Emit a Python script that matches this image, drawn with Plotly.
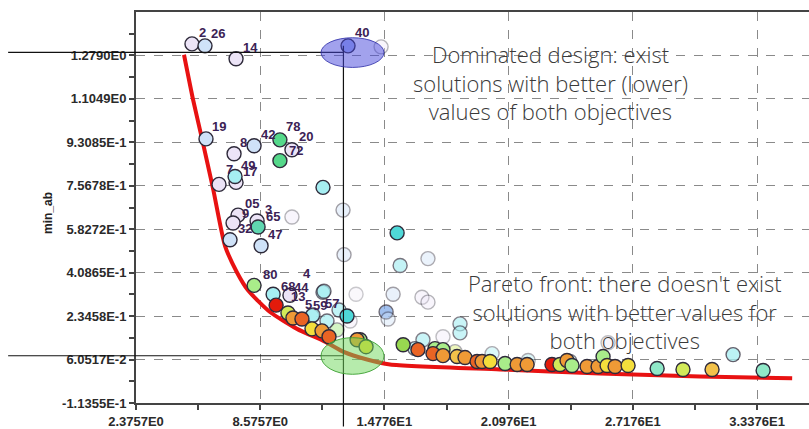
import plotly.graph_objects as go

# ---------------- data ----------------
X_TICKS = [2.3757, 8.5757, 14.776, 20.976, 27.176, 33.376]
X_TICK_TEXT = ["2.3757E0", "8.5757E0", "1.4776E1", "2.0976E1", "2.7176E1", "3.3376E1"]
Y_TICKS = [-0.11355, 0.060517, 0.23458, 0.40865, 0.58272, 0.75678, 0.93085, 1.1049, 1.2790]
Y_TICK_TEXT = ["-1.1355E-1", "6.0517E-2", "2.3458E-1", "4.0865E-1", "5.8272E-1",
               "7.5678E-1", "9.3085E-1", "1.1049E0", "1.2790E0"]
X_RANGE = [2.3757, 35.97]
Y_RANGE = [-0.11355, 1.45314]

# designs (objective 1, min_ab, colour class, opacity, label)
des_x = [14.61, 12.71, 10.16, 12.76, 15.56, 16.95, 11.71, 13.36, 15.21, 16.65,
         16.95, 14.86, 14.96, 12.51, 13.06, 11.91, 11.16, 18.55, 18.55, 17.70,
         16.70, 16.30, 18.30, 20.15, 21.95, 24.04, 25.94, 11.76, 12.41, 32.18,
         11.21,
         5.17, 5.82, 7.37, 12.96, 5.87, 7.27, 8.27, 9.56, 10.16, 9.56,
         6.52, 7.37, 7.32, 11.71, 7.47, 7.22, 8.42, 8.47, 7.07, 8.62,
         15.41, 8.27, 9.22, 10.06, 9.37, 9.96, 10.21, 10.66, 11.16, 11.66,
         12.01, 12.91, 13.56, 13.41, 13.86, 15.71, 16.45, 17.30, 17.70, 17.20,
         17.70, 18.40, 18.80, 19.40, 19.65, 20.05, 20.80, 21.40, 21.90, 23.14,
         23.54, 23.89, 24.14, 24.89, 25.44, 25.69, 25.89, 26.29, 26.94, 28.39,
         29.68, 31.13, 33.68]
des_y = [1.3135, 0.6593, 0.6315, 0.4808, 0.4372, 0.4650, 0.3302, 0.3222, 0.3222, 0.3104,
         0.2905, 0.2509, 0.2231, 0.2588, 0.2152, 0.2152, 0.2350, 0.2033, 0.1676, 0.1518,
         0.1399, 0.1042, 0.0923, 0.0843, 0.0566, 0.0526, 0.1280, 0.3341, 0.1795, 0.0804,
         0.2390,
         1.3254, 1.3175, 1.2659, 1.3175, 0.9447, 0.8853, 0.9170, 0.9408, 0.9011, 0.8575,
         0.7624, 0.7703, 0.7941, 0.7505, 0.6394, 0.6077, 0.6157, 0.5919, 0.5403, 0.5165,
         0.5681, 0.3579, 0.3222, 0.3183, 0.2786, 0.2469, 0.2271, 0.2231, 0.1835, 0.1755,
         0.1518, 0.2350, 0.1399, 0.1399, 0.1121, 0.1200, 0.1002, 0.1042, 0.1002, 0.0843,
         0.0764, 0.0725, 0.0685, 0.0526, 0.0526, 0.0526, 0.0447, 0.0407, 0.0407, 0.0407,
         0.0407, 0.0566, 0.0367, 0.0328, 0.0328, 0.0725, 0.0367, 0.0328, 0.0367, 0.0249,
         0.0209, 0.0209, 0.0169]
des_class = ["lav", "lb", "lav", "lb", "cyan", "lb", "cyan", "lav", "lb", "lav",
             "lav", "blue", "lb", "cyan", "lav", "cyan", "cyan", "cyan", "cyan", "lav",
             "cyan", "cyan", "yg", "cyan", "cyan", "cyan", "lav", "cyan", "lg", "cyan",
             "cyan",
             "lav", "lb", "lav", "p40", "lb", "lav", "lb", "green", "lav", "green",
             "lav", "lav", "cyan", "cyan", "lav", "lav", "lav", "tg", "lb", "lb",
             "teal", "lg", "cyan", "lav", "red", "yg", "orange", "ored", "yellow", "orange",
             "ored", "teal", "lg", "orange", "yellow", "lime", "ored", "lg", "lg", "ored",
             "orange", "yo", "orange", "ored", "orange", "yellow", "lg", "orange", "orange", "red",
             "yg", "orange", "lg", "orange", "orange", "lg", "yellow", "orange", "yellow", "cg",
             "yg", "yo", "cg"]
des_alpha = [0.35, 0.45, 0.35, 0.45, 0.65, 0.4, 0.7, 0.25, 0.45, 0.35,
             0.35, 0.7, 0.4, 0.7, 0.3, 0.7, 0.75, 0.6, 0.6, 0.3,
             0.6, 0.7, 0.4, 0.4, 0.4, 0.6, 0.3, 0.7, 0.5, 0.75,
             0.75] + [1.0] * 62
des_label = [""] * 31 + [
    "2", "26", "14", "40", "19", "8", "42", "78", "20", "72",
    "7", "17", "49", "", "05", "9", "3", "65", "32", "47",
    "", "80", "68", "44", "", "", "", "", "", "",
    "", "", "", "", "", "", "", "", "", "",
    "", "", "", "", "", "", "", "", "", "",
    "", "", "", "", "", "", "", "", "", "",
    "", ""]

# extra overlapping labels in the dense cluster: (label, attached design index)
extra_labels = [("4", 54), ("13", 54), ("5", 58), ("59", 58), ("57", 58)]

# hand-drawn Pareto front curve
front_x = [4.772, 5.22, 5.671, 6.220, 6.819, 7.418, 7.967, 9.066, 10.414, 11.81,
           12.71, 13.91, 15.06, 20.55, 25.54, 30.53, 35.13]
front_y = [1.2818, 1.1034, 0.9447, 0.7465, 0.5165, 0.4095, 0.3381, 0.2509, 0.1835, 0.1319,
           0.0923, 0.0606, 0.0407, 0.0209, 0.0050, -0.0069, -0.0148]

# reference cross-hair values
CROSS_X = 12.73
CROSS_Y_TOP = 1.291
CROSS_Y_LOW = 0.0757

# ---------------- styles ----------------
COLORS = {
    "lav": "#ece4f7", "lb": "#cfe2f8", "p40": "#a9b8f5", "cyan": "#a6eef2",
    "teal": "#4fd8d8", "green": "#55d88a", "tg": "#5fd6b0", "lg": "#a9ec8a",
    "lime": "#98d850", "yg": "#d2ea58", "yellow": "#f4de3c", "yo": "#f3c24a",
    "orange": "#ef9a36", "ored": "#ea6424", "red": "#e31b0b", "cg": "#8fe8c8",
    "blue": "#7aa6e8",
}
LABEL_OFFSETS = {
    "2": (11, 11), "26": (13, 12), "14": (14, 11), "40": (14, 13), "19": (13, 12),
    "8": (9, 11), "42": (14, 11), "78": (13, 13), "20": (14, 13), "72": (16, 10),
    "49": (13, 11), "7": (10, 15), "17": (14, 11), "05": (14, 12), "9": (12, 10),
    "3": (11, 12), "65": (15, 10), "32": (15, 11), "47": (14, 11), "80": (16, 11),
    "68": (15, 8), "44": (12, 8), "4": (17, 22), "13": (8, -1), "5": (7, 14),
    "59": (18, 13), "57": (30, 15),
}
LABEL_FONT = dict(family="Liberation Sans, Arial", size=13, color="#3b2255", weight="bold")


def to_px(v):
    return (v - X_RANGE[0]) / (X_RANGE[1] - X_RANGE[0])


def to_py(v):
    return (v - Y_RANGE[0]) / (Y_RANGE[1] - Y_RANGE[0])


fig = go.Figure()

fig.add_trace(go.Scatter(
    x=front_x, y=front_y, mode="lines",
    line=dict(color="#e81212", width=4, shape="spline", smoothing=0.6),
    hoverinfo="skip", showlegend=False))

fig.add_trace(go.Scatter(
    x=des_x, y=des_y, mode="markers",
    marker=dict(size=14, color=[COLORS[c] for c in des_class], opacity=des_alpha,
                line=dict(color="#2e2a3a", width=1.4)),
    showlegend=False))

annotations = []
for xv, yv, lab in zip(des_x, des_y, des_label):
    if lab:
        dx, dy = LABEL_OFFSETS[lab]
        annotations.append(dict(x=xv, y=yv, xref="x", yref="y", text=lab, showarrow=False,
                                xshift=dx, yshift=dy, font=LABEL_FONT))
for lab, idx in extra_labels:
    dx, dy = LABEL_OFFSETS[lab]
    annotations.append(dict(x=des_x[idx], y=des_y[idx], xref="x", yref="y", text=lab,
                            showarrow=False, xshift=dx, yshift=dy, font=LABEL_FONT))

TEXT_FONT = dict(family="Open Sans", size=22, color="#3a3a3a", weight=300)
annotations.append(dict(xref="paper", yref="paper", x=0.6166, y=0.8190,
                        xanchor="center", yanchor="middle", showarrow=False,
                        text="Dominated design: exist<br>solutions with better (lower)<br>values of both objectives",
                        font=TEXT_FONT))
annotations.append(dict(xref="paper", yref="paper", x=0.7266, y=0.2329,
                        xanchor="center", yanchor="middle", showarrow=False,
                        text="Pareto front: there doesn't exist<br>solutions with better values for<br>both objectives",
                        font=TEXT_FONT))
annotations.append(dict(xref="paper", yref="paper", x=-0.1308, y=0.486, textangle=-90,
                        xanchor="center", yanchor="middle", showarrow=False, text="min_ab",
                        font=dict(family="Liberation Sans, Arial", size=12, color="#222",
                                  weight="bold")))

line_style = dict(color="#111111", width=1.2)
shapes = [
    dict(type="line", xref="paper", yref="paper", x0=-0.19, x1=to_px(CROSS_X),
         y0=to_py(CROSS_Y_TOP), y1=to_py(CROSS_Y_TOP), line=line_style, layer="above"),
    dict(type="line", xref="paper", yref="paper", x0=-0.19, x1=to_px(CROSS_X),
         y0=to_py(CROSS_Y_LOW), y1=to_py(CROSS_Y_LOW), line=line_style, layer="above"),
    dict(type="line", xref="paper", yref="paper", x0=to_px(CROSS_X), x1=to_px(CROSS_X),
         y0=to_py(1.3175), y1=-0.06, line=line_style, layer="above"),
    dict(type="circle", xref="paper", yref="paper", x0=0.2749, x1=0.3685, y0=0.8582, y1=0.9342,
         fillcolor="rgba(70,70,220,0.5)", line=dict(color="rgba(50,50,170,0.85)", width=1),
         layer="above"),
    dict(type="circle", xref="paper", yref="paper", x0=0.2749, x1=0.3685, y0=0.0734, y1=0.1671,
         fillcolor="rgba(110,215,90,0.5)", line=dict(color="rgba(60,160,50,0.9)", width=1),
         layer="above"),
]

TICK_FONT = dict(family="Liberation Sans, Arial", size=13, color="#2a2a2a", weight="bold")
fig.update_layout(
    width=809, height=429,
    margin=dict(l=136, r=0, t=12, b=22),
    paper_bgcolor="white", plot_bgcolor="white",
    showlegend=False,
    annotations=annotations,
    shapes=shapes,
    xaxis=dict(range=X_RANGE, tickmode="array", tickvals=X_TICKS, ticktext=X_TICK_TEXT,
               showgrid=True, gridcolor="#8a8a8a", gridwidth=1.4, griddash="dash",
               zeroline=False, showline=True, linecolor="#444", linewidth=2, mirror=True,
               ticks="outside", ticklen=5, tickcolor="#444", tickwidth=1.5,
               minor=dict(tickvals=[X_TICKS[i] + 3.1 for i in range(len(X_TICKS))],
                          ticks="outside", ticklen=5, tickcolor="#444"),
               tickfont=TICK_FONT),
    yaxis=dict(range=Y_RANGE, tickmode="array", tickvals=Y_TICKS, ticktext=Y_TICK_TEXT,
               showgrid=True, gridcolor="#8a8a8a", gridwidth=1.4, griddash="dash",
               zeroline=False, showline=True, linecolor="#444", linewidth=2,
               ticks="outside", ticklen=5, tickcolor="#444", tickwidth=1.5,
               minor=dict(tickvals=[v + 0.087035 for v in Y_TICKS],
                          ticks="outside", ticklen=5, tickcolor="#444"),
               tickfont=TICK_FONT),
)

fig.write_html("out.html")
